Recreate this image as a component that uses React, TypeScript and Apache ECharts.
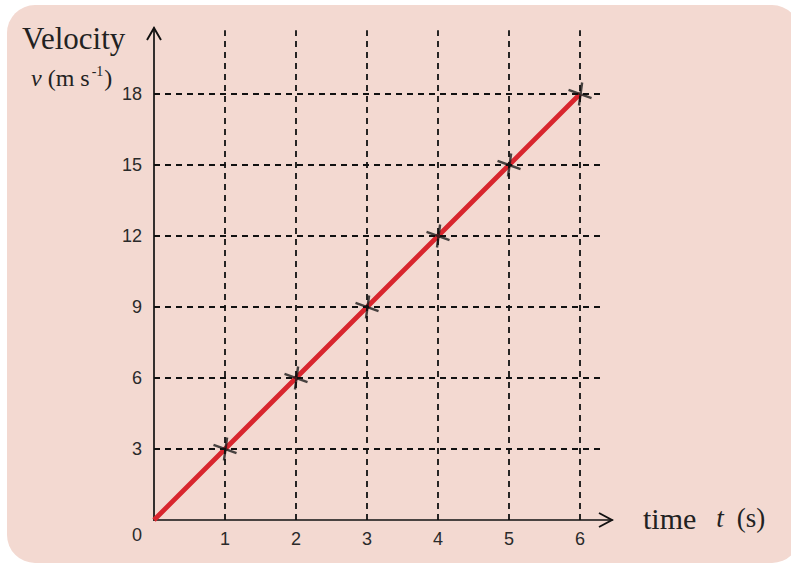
import React, { useEffect, useRef } from "react";
import * as echarts from "echarts";

// Data
const times = [0, 1, 2, 3, 4, 5, 6];
const velocities = [0, 3, 6, 9, 12, 15, 18];
const markerTimes = [1, 2, 3, 4, 5, 6];
const markerVelocities = [3, 6, 9, 12, 15, 18];
const xTickLabels = [1, 2, 3, 4, 5, 6];
const yTickLabels = [3, 6, 9, 12, 15, 18];
const originLabel = "0";
const yTitle = "Velocity";
const xTitleWord = "time";
const xTitleSymbol = "t";
const xTitleUnit = "(s)";

const X_MAX = 6.45;
const Y_MAX = 20.79;
const GRID_X_END = 6.3;
const GRID_Y_END = 20.7;

const SANS = "'Liberation Sans', Arial, sans-serif";
const SERIF = "'Liberation Serif', 'Times New Roman', serif";

export default function App() {
  const ref = useRef<HTMLDivElement>(null);

  useEffect(() => {
    if (!ref.current) return;
    const chart = echarts.init(ref.current, undefined, { renderer: "svg" });

    const gridLines: any[] = [];
    xTickLabels.forEach((x) => {
      gridLines.push([{ coord: [x, 0] }, { coord: [x, GRID_Y_END] }]);
    });
    yTickLabels.forEach((y) => {
      gridLines.push([{ coord: [0, y] }, { coord: [GRID_X_END, y] }]);
    });

    const option: any = {
      animation: false,
      backgroundColor: "#ffffff",
      grid: { left: 154, top: 28, right: 179, bottom: 44, containLabel: false },
      xAxis: {
        type: "value",
        min: 0,
        max: X_MAX,
        interval: 1,
        axisLine: { show: true, onZero: false, lineStyle: { color: "#111", width: 1.7 } },
        axisTick: { show: false },
        splitLine: { show: false },
        axisLabel: {
          show: true,
          margin: 10,
          color: "#2a2a2a",
          fontFamily: SANS,
          fontSize: 18,
          showMaxLabel: false,
          formatter: (v: number) => (xTickLabels.indexOf(v) >= 0 ? String(v) : ""),
        },
      },
      yAxis: {
        type: "value",
        min: 0,
        max: Y_MAX,
        interval: 3,
        axisLine: { show: true, onZero: false, lineStyle: { color: "#111", width: 1.7 } },
        axisTick: { show: false },
        splitLine: { show: false },
        axisLabel: {
          show: true,
          margin: 12,
          color: "#2a2a2a",
          fontFamily: SANS,
          fontSize: 18,
          showMaxLabel: false,
          formatter: (v: number) => (yTickLabels.indexOf(v) >= 0 ? String(v) : ""),
        },
      },
      series: [
        {
          type: "line",
          data: [],
          silent: true,
          z: 1,
          markLine: {
            silent: true,
            symbol: ["none", "none"],
            label: { show: false },
            lineStyle: { color: "#111", width: 1.8, type: [6, 5] },
            data: gridLines,
          },
        },
        {
          type: "line",
          data: times.map((t, i) => [t, velocities[i]]),
          showSymbol: false,
          symbol: "none",
          z: 3,
          lineStyle: { color: "#D8262E", width: 4.8 },
        },
        {
          type: "scatter",
          data: markerTimes.map((t, i) => [t, markerVelocities[i]]),
          symbol: "path://M0,7L22,15M13,0L10,22",
          symbolSize: 23,
          z: 4,
          itemStyle: { color: "transparent", borderColor: "#1a1a1a", borderWidth: 2.4 },
        },
      ],
    };

    chart.setOption(option);

    const o = chart.convertToPixel({ gridIndex: 0 }, [0, 0]) as number[];
    const xe = chart.convertToPixel({ gridIndex: 0 }, [X_MAX, 0]) as number[];
    const ye = chart.convertToPixel({ gridIndex: 0 }, [0, Y_MAX]) as number[];

    chart.setOption({
      graphic: [
        {
          type: "rect",
          z: -10,
          shape: { x: 7, y: 5, width: 793, height: 558, r: 28 },
          style: { fill: "#F3D9D1" },
          silent: true,
        },
        {
          type: "polyline",
          z: 10,
          shape: { points: [[xe[0] - 13, xe[1] - 7], [xe[0], xe[1]], [xe[0] - 13, xe[1] + 7]] },
          style: { stroke: "#111", lineWidth: 1.9, fill: null },
        },
        {
          type: "polyline",
          z: 10,
          shape: { points: [[ye[0] - 7, ye[1] + 12], [ye[0], ye[1]], [ye[0] + 7, ye[1] + 12]] },
          style: { stroke: "#111", lineWidth: 1.9, fill: null },
        },
        {
          type: "text",
          z: 10,
          x: o[0] - 17,
          y: o[1] + 15,
          style: {
            text: originLabel,
            fill: "#2a2a2a",
            font: `18px ${SANS}`,
            align: "center",
            verticalAlign: "middle",
          },
        },
        {
          type: "text",
          z: 10,
          x: 22,
          y: 54,
          style: {
            text: yTitle,
            fill: "#222",
            font: `31px ${SERIF}`,
            align: "left",
            verticalAlign: "bottom",
          },
        },
        {
          type: "text",
          z: 10,
          x: 31,
          y: 92,
          style: {
            text: "{i|v}{n| (m s}{s|-1}{n|)}",
            fill: "#222",
            font: `24px ${SERIF}`,
            align: "left",
            verticalAlign: "bottom",
            rich: {
              i: { fontFamily: SERIF, fontSize: 24, fontStyle: "italic", fill: "#222", lineHeight: 28 },
              n: { fontFamily: SERIF, fontSize: 24, fill: "#222", lineHeight: 28 },
              s: { fontFamily: SERIF, fontSize: 14, fill: "#222", lineHeight: 15, verticalAlign: "top", padding: [0, 1, 0, 2] },
            },
          },
        },
        {
          type: "text",
          z: 10,
          x: 643,
          y: 535,
          style: {
            text: `{w|${xTitleWord}}{i|${xTitleSymbol}}{u|${xTitleUnit}}`,
            fill: "#222",
            font: `30px ${SERIF}`,
            align: "left",
            verticalAlign: "bottom",
            rich: {
              w: { fontFamily: SERIF, fontSize: 30, fill: "#222", lineHeight: 34, padding: [0, 20, 0, 0] },
              i: { fontFamily: SERIF, fontSize: 27, fontStyle: "italic", fill: "#222", lineHeight: 34, padding: [0, 13, 0, 0] },
              u: { fontFamily: SERIF, fontSize: 27, fill: "#222", lineHeight: 34 },
            },
          },
        },
      ],
    });

    return () => chart.dispose();
  }, []);

  return (
    <div
      ref={ref}
      style={{ position: "fixed", left: 0, top: 0, width: 791, height: 564 }}
    />
  );
}
